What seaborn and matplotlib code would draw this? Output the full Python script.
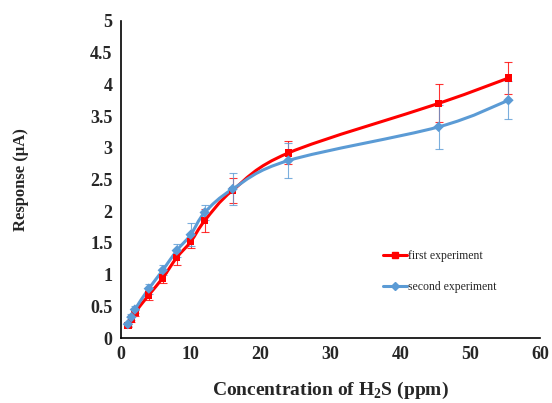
import matplotlib
matplotlib.use('Agg')
import matplotlib.pyplot as plt
import numpy as np
import pandas as pd
import seaborn as sns
from matplotlib.path import Path
from matplotlib.patches import PathPatch
from matplotlib.lines import Line2D

conc = [1, 1.5, 2, 4, 6, 8, 10, 12, 16, 24, 45.5, 55.5]
first = [0.2, 0.3, 0.4, 0.68, 0.95, 1.27, 1.52, 1.85, 2.33, 2.92, 3.7, 4.1]
first_err = [0.03, 0.05, 0.05, 0.08, 0.08, 0.12, 0.1, 0.18, 0.2, 0.18, 0.3, 0.25]
second = [0.22, 0.33, 0.45, 0.78, 1.07, 1.38, 1.63, 1.98, 2.35, 2.8, 3.33, 3.75]
second_err = [0.03, 0.05, 0.05, 0.08, 0.08, 0.1, 0.18, 0.12, 0.25, 0.27, 0.35, 0.3]

df = pd.concat([
    pd.DataFrame({'conc': conc, 'resp': first, 'err': first_err, 'exp': 'first experiment'}),
    pd.DataFrame({'conc': conc, 'resp': second, 'err': second_err, 'exp': 'second experiment'}),
])

sns.set_style('white')
plt.rcParams['font.family'] = ['Liberation Serif', 'DejaVu Serif']

colors = {'first experiment': '#FF0000', 'second experiment': '#5B9BD5'}
markers = {'first experiment': 's', 'second experiment': 'D'}


def smooth_path(x, y, t=0.5):
    # catmull-rom style bezier through the points, like a spreadsheet smoothed line
    x = np.asarray(x, float)
    y = np.asarray(y, float)
    verts = [(x[0], y[0])]
    codes = [Path.MOVETO]
    n = len(x)
    for i in range(n - 1):
        x0, y0 = (x[i - 1], y[i - 1]) if i > 0 else (x[i], y[i])
        x3, y3 = (x[i + 2], y[i + 2]) if i + 2 < n else (x[i + 1], y[i + 1])
        c1 = (x[i] + (x[i + 1] - x0) * t / 3, y[i] + (y[i + 1] - y0) * t / 3)
        c2 = (x[i + 1] - (x3 - x[i]) * t / 3, y[i + 1] - (y3 - y[i]) * t / 3)
        verts += [c1, c2, (x[i + 1], y[i + 1])]
        codes += [Path.CURVE4] * 3
    return Path(verts, codes)


fig, ax = plt.subplots(figsize=(5.52, 4.03), dpi=100)
fig.subplots_adjust(left=0.219, right=0.978, top=0.948, bottom=0.161)

for name, sub in df.groupby('exp'):
    c = colors[name]
    ax.errorbar(sub['conc'], sub['resp'], yerr=sub['err'], fmt='none',
                ecolor=c, elinewidth=0.8, capsize=3, capthick=0.8, alpha=0.8, zorder=2)
    ax.add_patch(PathPatch(smooth_path(sub['conc'], sub['resp']), facecolor='none',
                           edgecolor=c, lw=2.2, zorder=3))

sns.scatterplot(data=df, x='conc', y='resp', hue='exp', style='exp',
                palette=colors, markers=markers, s=28, edgecolor='none',
                legend=False, ax=ax, zorder=4)

ax.set_xlim(0, 60)
ax.set_ylim(0, 5)
ax.set_xticks(range(0, 61, 10))
ax.set_yticks(np.arange(0, 5.01, 0.5))
ax.set_yticklabels(['0', '0.5', '1', '1.5', '2', '2.5', '3', '3.5', '4', '4.5', '5'])
for lab in ax.get_xticklabels() + ax.get_yticklabels():
    lab.set_fontweight('bold')
    lab.set_fontsize(13)
ax.tick_params(axis='both', direction='out', length=3, width=1, color='black', pad=3)
ax.spines['top'].set_visible(False)
ax.spines['right'].set_visible(False)
ax.spines['left'].set_color('black')
ax.spines['bottom'].set_color('black')
ax.spines['left'].set_linewidth(1.2)
ax.spines['bottom'].set_linewidth(1.2)

ax.set_xlabel('Concentration of H$_\\mathregular{2}$S (ppm)', fontsize=14, fontweight='bold', labelpad=12)
ax.set_ylabel('Response (µA)', fontsize=12, fontweight='bold', labelpad=44)

handles = [Line2D([], [], color=colors[k], marker=markers[k], markersize=4, lw=2.2)
           for k in colors]
ax.legend(handles, list(colors), loc='center left', bbox_to_anchor=(0.6, 0.21),
          frameon=False, fontsize=8.5, handlelength=2.0, handletextpad=0.1,
          labelspacing=1.6)

fig.savefig('out.png', dpi=100)
